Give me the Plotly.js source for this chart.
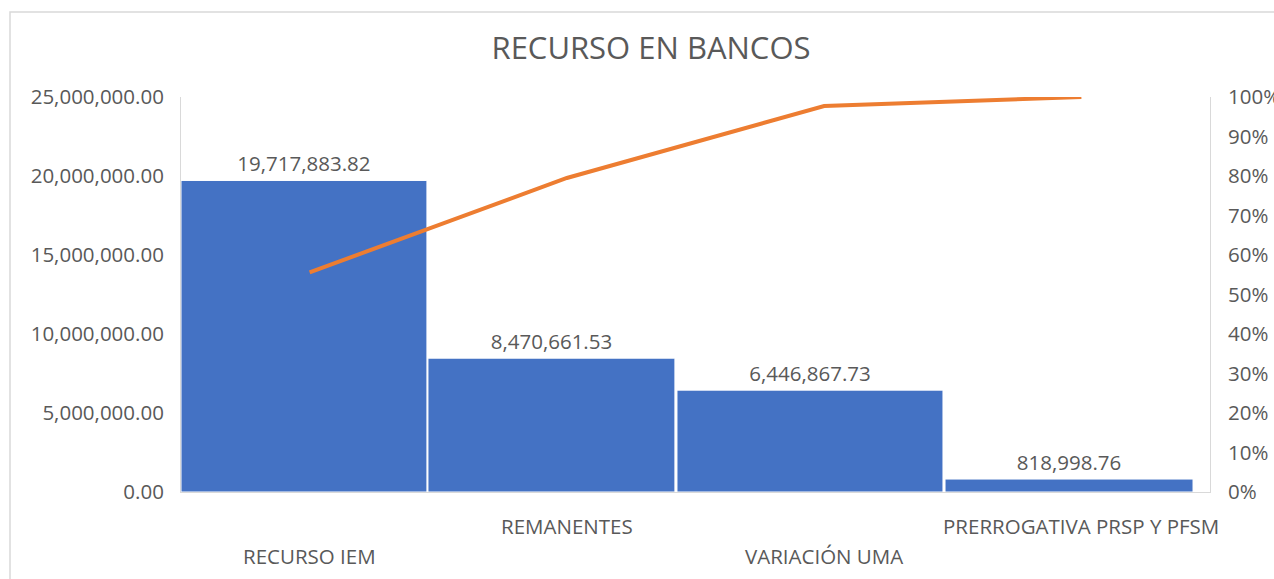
<!DOCTYPE html>
<html>
<head>
<meta charset="utf-8">
<script src="https://cdn.plot.ly/plotly-3.0.1.min.js"></script>
<style>html,body{margin:0;padding:0;background:#fff;}#chart{width:1274px;height:579px;}</style>
</head>
<body>
<div id="chart"></div>
<script>
const categories = ['RECURSO IEM', 'REMANENTES', 'VARIACIÓN UMA', 'PRERROGATIVA PRSP Y PFSM'];
const amounts = [19717883.82, 8470661.53, 6446867.73, 818998.76];
const amountLabels = ['19,717,883.82', '8,470,661.53', '6,446,867.73', '818,998.76'];
const cumulativePct = [0.556, 0.795, 0.977, 1.0];
const labelRow = [1, 0, 1, 0];

const grey = '#595959';
const font = '"Open Sans", "Noto Sans", sans-serif';

const bars = {
  type: 'bar',
  x: categories,
  y: amounts,
  text: amountLabels,
  textposition: 'outside',
  textfont: {family: font, size: 20.5, color: grey},
  cliponaxis: false,
  marker: {color: '#4472C4', line: {color: '#ffffff', width: 1}},
  width: [0.956, 0.96, 1.034, 0.964],
  offset: [-0.5, -0.54, -0.572, -0.53],
  hoverinfo: 'none',
  showlegend: false
};
const line = {
  type: 'scatter',
  mode: 'lines',
  x: categories,
  y: cumulativePct,
  yaxis: 'y2',
  line: {color: '#ED7D31', width: 4},
  hoverinfo: 'none',
  showlegend: false
};

const annotations = categories.map((c, i) => ({
  x: c, xref: 'x', y: 0, yref: 'paper',
  text: c, showarrow: false,
  yanchor: 'middle', xanchor: 'center',
  yshift: labelRow[i] ? -64 : -34,
  font: {family: font, size: 20.5, color: grey}
}));

const layout = {
  width: 1274, height: 579,
  margin: {l: 181, r: 64, t: 97, b: 87},
  paper_bgcolor: '#ffffff', plot_bgcolor: '#ffffff',
  title: {text: 'RECURSO EN BANCOS', x: 0.511, xanchor: 'center', y: 0.917, yanchor: 'middle',
          font: {family: font, size: 31, color: grey}},
  bargap: 0,
  xaxis: {
    type: 'category', range: [-0.5, 3.5], showticklabels: false,
    showline: true, linecolor: '#d9d9d9', linewidth: 1, showgrid: false, zeroline: false, ticks: ''
  },
  yaxis: {
    range: [0, 25000000], dtick: 5000000, tickformat: ',.2f',
    showline: true, linecolor: '#d9d9d9', showgrid: false, zeroline: false,
    ticks: '', ticklabelstandoff: 12, tickfont: {family: font, size: 20.5, color: grey}
  },
  yaxis2: {
    overlaying: 'y', side: 'right', range: [0, 1], dtick: 0.1, tickformat: '.0%',
    showline: true, linecolor: '#d9d9d9', showgrid: false, zeroline: false,
    ticks: '', ticklabelstandoff: 13, tickfont: {family: font, size: 20.5, color: grey}
  },
  annotations: annotations,
  shapes: [{
    type: 'rect', xref: 'paper', yref: 'paper',
    x0: (10 - 181) / 1029, x1: (1290 - 181) / 1029,
    y0: (492 - 600) / 395, y1: (492 - 12) / 395,
    line: {color: '#d9d9d9', width: 1.5}, fillcolor: 'rgba(0,0,0,0)', layer: 'below'
  }]
};

Plotly.newPlot('chart', [bars, line], layout, {displayModeBar: false, staticPlot: true});
</script>
</body>
</html>
